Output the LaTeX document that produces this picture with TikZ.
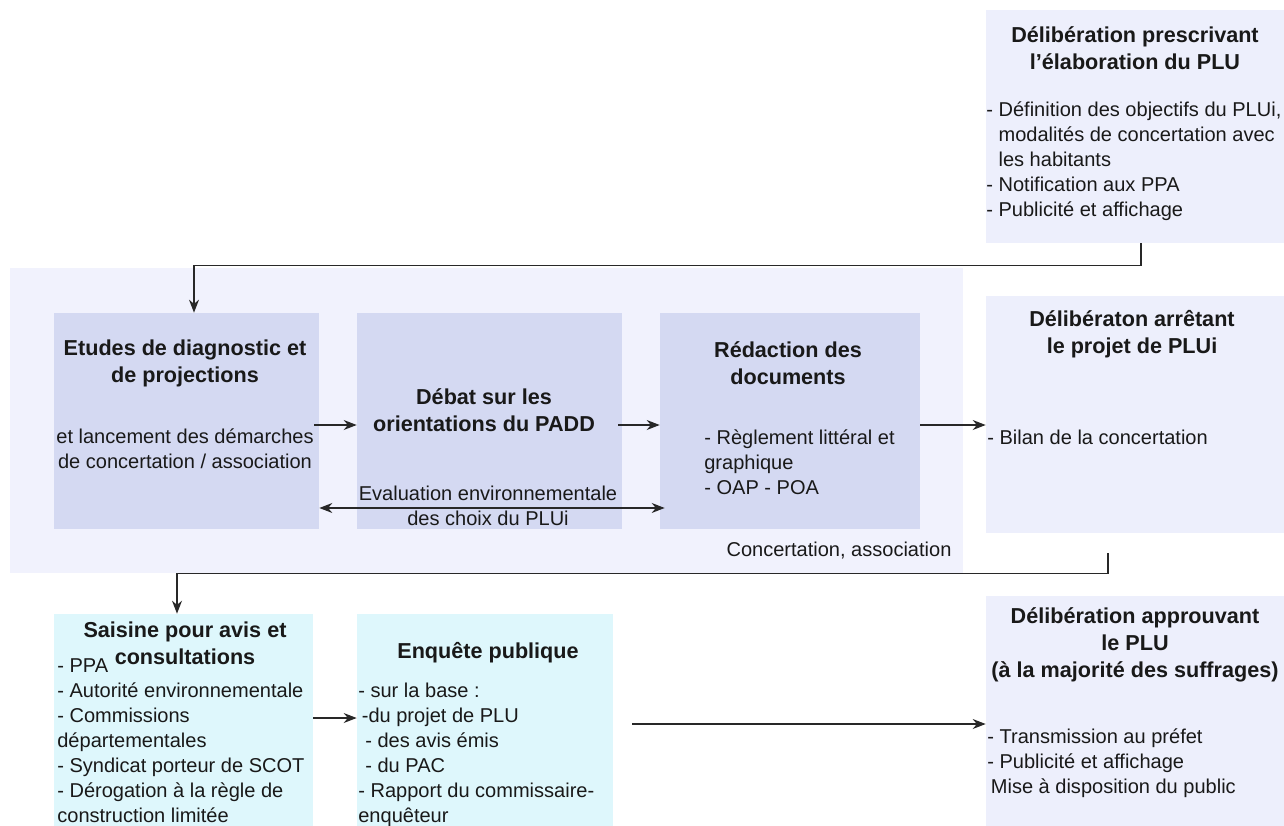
\documentclass[tikz,border=0pt]{standalone}
\usepackage{fontspec}
\setmainfont{Liberation Sans}
\usepackage{xcolor}
\usetikzlibrary{arrows.meta}
\definecolor{zonebg}{RGB}{241,242,253}
\definecolor{lavbg}{RGB}{237,239,252}
\definecolor{stepbg}{RGB}{212,217,242}
\definecolor{cyanbg}{RGB}{222,247,252}
\definecolor{linegray}{RGB}{40,40,40}
\definecolor{textdark}{RGB}{25,25,25}

\tikzset{
  box/.style={draw=none, inner sep=0pt},
  titletext/.style={font=\bfseries\fontsize{12.3}{15.3}\selectfont, inner sep=0pt, align=center, text=textdark},
  bodytext/.style={font=\fontsize{11.4}{14.2}\selectfont, inner sep=0pt, align=left, text=textdark},
  arr/.style={-{Stealth[length=2.6mm,width=2mm]}, line width=0.7pt, draw=linegray},
  arrboth/.style={{Stealth[length=2.6mm,width=2mm]}-{Stealth[length=2.6mm,width=2mm]}, line width=0.7pt, draw=linegray}
}

\begin{document}
\begin{tikzpicture}[x=0.02cm,y=-0.02cm]
\useasboundingbox (0,0) rectangle (1284,825);

\node[box, fill=zonebg, minimum width=19.06cm, minimum height=6.1cm] (zone) at (486.5,420.5) {};

\node[box, fill=lavbg, minimum width=5.96cm, minimum height=4.66cm] (prescr) at (1135,126.5) {};
\node[titletext] (prescr title) at (1135,48.5) {Délibération prescrivant\\l'élaboration du PLU};
\node[bodytext, anchor=west] (prescr body) at (986,161)
{
- Définition des objectifs du PLUi,\\
\phantom{- }modalités de concertation avec\\
\phantom{- }les habitants\\
- Notification aux PPA\\
- Publicité et affichage
};

\node[box, fill=stepbg, minimum width=5.3cm, minimum height=4.32cm] (etudes) at (186.5,421) {};
\node[titletext] (etudes title) at (185,363.5) {Etudes de diagnostic et\\de projections};
\node[bodytext, align=center] (etudes body) at (185,449) {et lancement des démarches\\de concertation / association};

\node[box, fill=stepbg, minimum width=5.3cm, minimum height=4.32cm] (debat) at (489.5,421) {};
\node[titletext] (debat title) at (484,410.5) {Débat sur les\\orientations du PADD};

\node[box, fill=stepbg, minimum width=5.2cm, minimum height=4.32cm] (redaction) at (790,421) {};
\node[titletext] (redaction title) at (788,363.5) {Rédaction des\\documents};
\node[bodytext, anchor=west] (redaction body) at (704,462)
{
- Règlement littéral et\\
graphique\\
- OAP - POA
};

\node[box, fill=lavbg, minimum width=5.96cm, minimum height=4.74cm] (arret) at (1135,414.5) {};
\node[titletext] (arret title) at (1132,334.5) {Délibératon arrêtant\\le projet de PLUi};
\node[bodytext, anchor=west] (arret body) at (987,437) {- Bilan de la concertation};

\node[bodytext, align=center] (eval) at (488,505.5) {Evaluation environnementale\\des choix du PLUi};
\node[bodytext] (concert) at (839,551) {Concertation, association};

\node[box, fill=cyanbg, minimum width=5.18cm, minimum height=4.52cm] (saisine) at (183.5,727) {};
\node[titletext] (saisine title) at (185,643) {Saisine pour avis et\\consultations};
\node[bodytext, anchor=west] (saisine body) at (57,740.5)
{
- PPA\\
- Autorité environnementale\\
- Commissions\\
départementales\\
- Syndicat porteur de SCOT\\
- Dérogation à la règle de\\
construction limitée
};

\node[box, fill=cyanbg, minimum width=5.12cm, minimum height=4.52cm] (enquete) at (485,727) {};
\node[titletext] (enquete title) at (488,653) {Enquête publique};
\node[bodytext, anchor=west] (enquete body) at (358,755)
{
- sur la base :\\
\hspace{2pt}-du projet de PLU\\
\hspace{4pt}- des avis émis\\
\hspace{4pt}- du PAC\\
- Rapport du commissaire-\\
enquêteur
};

\node[box, fill=lavbg, minimum width=5.96cm, minimum height=4.88cm] (approuv) at (1135,718) {};
\node[titletext] (approuv title) at (1135,645) {Délibération approuvant\\le PLU\\(à la majorité des suffrages)};
\node[bodytext, anchor=west] (approuv body) at (987,763)
{
- Transmission au préfet\\
- Publicité et affichage\\
\hspace{2pt}Mise à disposition du public
};

\coordinate (p1) at ([xshift=0.12cm]prescr.south);
\draw[arr] (p1) -- ++(0,22) -| ([xshift=0.15cm]etudes.north);
\draw[arr] ([yshift=-0.08cm,xshift=-0.1cm]etudes.east) -- ([yshift=-0.08cm]debat.west);
\draw[arr] ([yshift=-0.08cm,xshift=-0.08cm]debat.east) -- ([yshift=-0.08cm]redaction.west);
\coordinate (r1) at ([yshift=-0.08cm]redaction.east);
\draw[arr] (r1) -- (r1 -| arret.west);
\coordinate (e1) at ([yshift=-1.74cm]etudes.east);
\draw[arrboth] (e1) -- ([xshift=0.1cm]e1 -| redaction.west);
\coordinate (a1) at ([xshift=-0.54cm,yshift=-0.4cm]arret.south);
\draw[arr] (a1) -- ++(0,20) -| ([xshift=-0.13cm]saisine.north);
\coordinate (s1) at ([yshift=0.18cm]saisine.east);
\draw[arr] (s1) -- (s1 -| enquete.west);
\coordinate (q1) at ([xshift=0.38cm,yshift=0.06cm]enquete.east);
\draw[arr] (q1) -- (q1 -| approuv.west);

\end{tikzpicture}
\end{document}
